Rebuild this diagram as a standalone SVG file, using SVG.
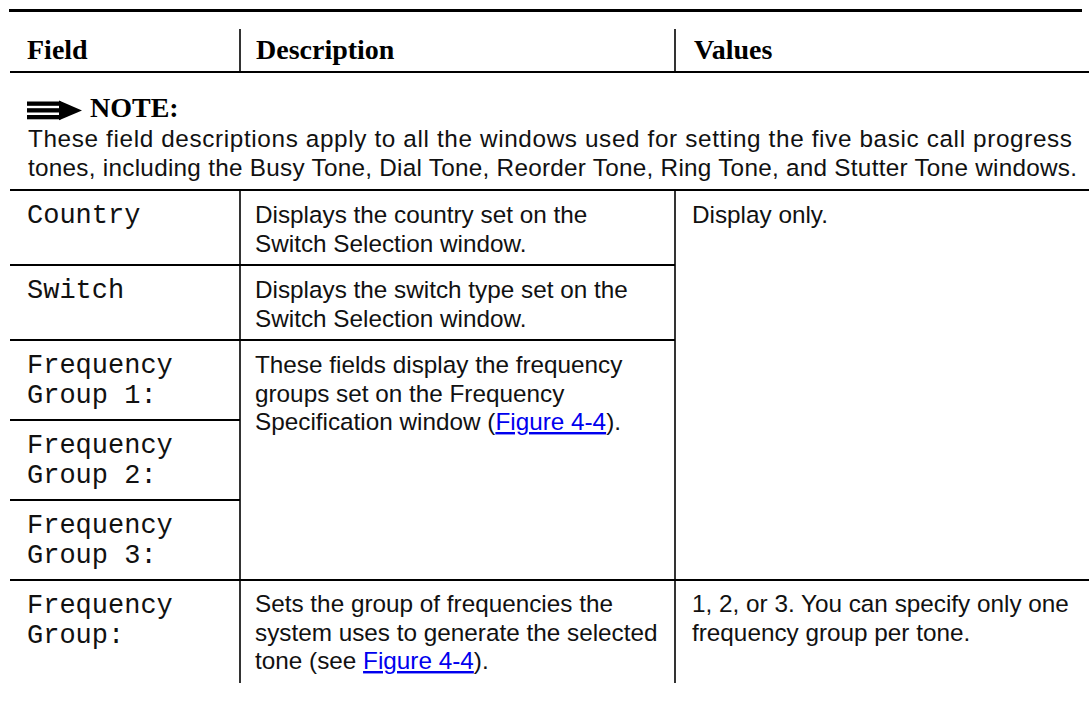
<svg xmlns="http://www.w3.org/2000/svg" width="1089" height="711" viewBox="0 0 1089 711">
  <style>
    .rule { stroke: #000; fill: none; }
    .head { font-family: "Liberation Serif", "Times New Roman", serif; font-weight: bold; font-size: 28px; fill: #000; }
    .body { font-family: "Liberation Sans", Arial, Helvetica, sans-serif; font-size: 24.3px; fill: #111; }
    .mono { font-family: "Courier New", "Liberation Mono", monospace; font-size: 27px; fill: #111; }
    .link { fill: #0000ee; text-decoration: underline; }
  </style>

  <rect width="1089" height="711" fill="#fff"/>

  <!-- table rules -->
  <g id="connectors">
    <line class="rule" x1="9" y1="10.5" x2="1082" y2="10.5" stroke-width="3"/>
    <line class="rule" x1="240" y1="29" x2="240" y2="72" stroke-width="1.6"/>
    <line class="rule" x1="675" y1="29" x2="675" y2="72" stroke-width="1.6"/>
    <line class="rule" x1="10" y1="72" x2="1089" y2="72" stroke-width="2"/>
    <line class="rule" x1="10" y1="190" x2="1089" y2="190" stroke-width="2"/>
    <line class="rule" x1="10" y1="265" x2="675" y2="265" stroke-width="2"/>
    <line class="rule" x1="10" y1="340" x2="675" y2="340" stroke-width="2"/>
    <line class="rule" x1="10" y1="420" x2="240" y2="420" stroke-width="2"/>
    <line class="rule" x1="10" y1="500" x2="240" y2="500" stroke-width="2"/>
    <line class="rule" x1="10" y1="580" x2="1089" y2="580" stroke-width="2"/>
    <line class="rule" x1="240" y1="190" x2="240" y2="683" stroke-width="1.6"/>
    <line class="rule" x1="675" y1="190" x2="675" y2="683" stroke-width="1.6"/>
  </g>

  <!-- column headings -->
  <g id="header">
    <text class="head" x="27" y="58.5">Field</text>
    <text class="head" x="256" y="58.5">Description</text>
    <text class="head" x="694" y="58.5">Values</text>
  </g>

  <!-- note block -->
  <g id="note">
    <g id="note-icon" fill="#000">
      <rect x="27" y="101.5" width="34" height="4.3"/>
      <rect x="27" y="108.2" width="34" height="4.3"/>
      <rect x="27" y="115" width="34" height="4.3"/>
      <polygon points="59,100.5 82,110.4 59,120.3"/>
    </g>
    <text class="head" x="90" y="117">NOTE:</text>
    <text class="body" x="28" y="147" textLength="1044" lengthAdjust="spacing">These field descriptions apply to all the windows used for setting the five basic call progress</text>
    <text class="body" x="28" y="176" textLength="1049" lengthAdjust="spacing">tones, including the Busy Tone, Dial Tone, Reorder Tone, Ring Tone, and Stutter Tone windows.</text>
  </g>

  <g id="row-country">
    <text class="mono" x="27" y="223">Country</text>
    <text class="body" x="255" y="223">Displays the country set on the</text>
    <text class="body" x="255" y="252">Switch Selection window.</text>
  </g>

  <g id="values-display-only">
    <text class="body" x="692" y="223">Display only.</text>
  </g>

  <g id="row-switch">
    <text class="mono" x="27" y="298">Switch</text>
    <text class="body" x="255" y="298">Displays the switch type set on the</text>
    <text class="body" x="255" y="327">Switch Selection window.</text>
  </g>

  <g id="row-frequency-group-1">
    <text class="mono" x="27" y="373">Frequency</text>
    <text class="mono" x="27" y="403">Group 1:</text>
  </g>

  <g id="desc-frequency-groups">
    <text class="body" x="255" y="373">These fields display the frequency</text>
    <text class="body" x="255" y="401.5">groups set on the Frequency</text>
    <text class="body" x="255" y="430">Specification window (<tspan class="link">Figure 4-4</tspan>).</text>
  </g>

  <g id="row-frequency-group-2">
    <text class="mono" x="27" y="453">Frequency</text>
    <text class="mono" x="27" y="483">Group 2:</text>
  </g>

  <g id="row-frequency-group-3">
    <text class="mono" x="27" y="533">Frequency</text>
    <text class="mono" x="27" y="563">Group 3:</text>
  </g>

  <g id="row-frequency-group">
    <text class="mono" x="27" y="613">Frequency</text>
    <text class="mono" x="27" y="643">Group:</text>
    <text class="body" x="255" y="612">Sets the group of frequencies the</text>
    <text class="body" x="255" y="640.5">system uses to generate the selected</text>
    <text class="body" x="255" y="669">tone (see <tspan class="link">Figure 4-4</tspan>).</text>
    <text class="body" x="692" y="612">1, 2, or 3. You can specify only one</text>
    <text class="body" x="692" y="640.5">frequency group per tone.</text>
  </g>
</svg>
